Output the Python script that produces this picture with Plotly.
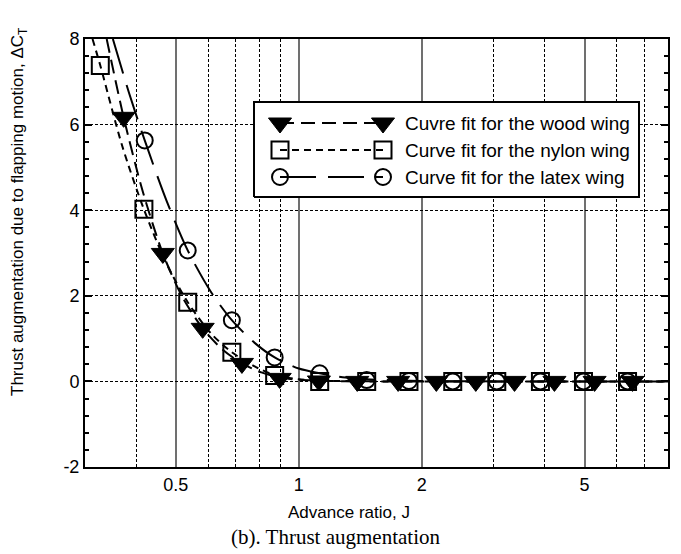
import plotly.graph_objects as go
import numpy as np

# ---- data ----
wood_J = [0.373, 0.465, 0.582, 0.726, 0.898, 1.12, 1.39, 1.75, 2.17, 2.71, 3.37, 4.22, 5.29, 6.55]
wood_dCT = [6.17, 2.99, 1.24, 0.42, 0.07, 0.01, 0.0, 0.0, 0.0, 0.0, 0.0, 0.0, 0.0, 0.0]

nylon_J = [0.327, 0.418, 0.535, 0.686, 0.873, 1.125, 1.466, 1.86, 2.38, 3.05, 3.90, 4.97, 6.37]
nylon_dCT = [7.38, 4.02, 1.85, 0.68, 0.14, 0.0, 0.0, 0.0, 0.0, 0.0, 0.0, 0.0, 0.0]

latex_J = [0.42, 0.535, 0.686, 0.873, 1.125, 1.466, 1.86, 2.38, 3.05, 3.90, 4.97, 6.37]
latex_dCT = [5.63, 3.06, 1.43, 0.56, 0.19, 0.03, 0.01, 0.0, 0.0, 0.0, 0.0, 0.0]

# curve fits
wood_fit_J = [0.339, 0.373, 0.415, 0.465, 0.52, 0.582, 0.65, 0.726, 0.81, 0.898, 1.0, 1.2, 1.6, 8.0]
wood_fit_dCT = [8.0, 6.17, 4.45, 2.99, 1.96, 1.24, 0.75, 0.42, 0.21, 0.09, 0.04, 0.01, 0.0, 0.0]

nylon_fit_J = [0.313, 0.327, 0.37, 0.418, 0.475, 0.535, 0.61, 0.686, 0.78, 0.873, 1.0, 1.125, 1.5, 8.0]
nylon_fit_dCT = [8.0, 7.38, 5.5, 4.02, 2.75, 1.85, 1.12, 0.68, 0.35, 0.15, 0.05, 0.02, 0.0, 0.0]

latex_fit_J = [0.351, 0.385, 0.42, 0.475, 0.535, 0.61, 0.686, 0.78, 0.873, 1.0, 1.125, 1.3, 1.466, 2.0, 3.0, 8.0]
latex_fit_dCT = [8.0, 6.72, 5.63, 4.22, 3.06, 2.09, 1.43, 0.9, 0.56, 0.3, 0.19, 0.09, 0.05, 0.01, 0.0, 0.0]

series_names = ["Cuvre fit for the wood wing", "Curve fit for the nylon wing", "Curve fit for the latex wing"]

x_major = [0.5, 1, 2, 5]
x_major_text = ["0.5", "1", "2", "5"]
x_minor = [0.3, 0.4, 0.6, 0.7, 0.8, 0.9, 3, 4, 6, 7]
y_major = [-2, 0, 2, 4, 6, 8]
y_major_text = ["-2", "0", "2", "4", "6", "8"]

# ---- layout geometry (pixels) ----
W, H = 681, 554
L, R, T, B = 85, 668, 39, 467
pw, ph = R - L, B - T


def px(xp):
    return (xp - L) / pw


def py(yp):
    return (B - yp) / ph


FONT = "Liberation Sans, Arial, sans-serif"
styles = [
    dict(symbol="triangle-down", size=20, color="black", line=dict(width=1, color="black"), dash="14px,7px"),
    dict(symbol="square-open", size=17, color="black", line=dict(width=2, color="black"), dash="7px,5px"),
    dict(symbol="circle-open", size=16, color="black", line=dict(width=2, color="black"), dash="36px,12px"),
]

fig = go.Figure()

fits = [(wood_fit_J, wood_fit_dCT), (nylon_fit_J, nylon_fit_dCT), (latex_fit_J, latex_fit_dCT)]
pts = [(wood_J, wood_dCT), (nylon_J, nylon_dCT), (latex_J, latex_dCT)]

for (fx, fy), st in zip(fits, styles):
    fig.add_trace(go.Scatter(x=fx, y=fy, mode="lines", line=dict(color="black", width=2, dash=st["dash"], shape="spline", smoothing=0.8),
                             showlegend=False, hoverinfo="skip"))
for (mx, my), st in zip(pts, styles):
    fig.add_trace(go.Scatter(x=mx, y=my, mode="markers",
                             marker=dict(symbol=st["symbol"], size=st["size"], color=st["color"], line=st["line"]),
                             showlegend=False))

# ---- custom legend on overlay axes ----
bx0, bx1, by0, by1 = px(254), px(639), py(197), py(102)
fig.add_trace(go.Scatter(x=[bx0, bx1, bx1, bx0, bx0], y=[by0, by0, by1, by1, by0], mode="lines",
                         fill="toself", fillcolor="white", line=dict(color="black", width=2),
                         xaxis="x2", yaxis="y2", showlegend=False, hoverinfo="skip"))
rows = [py(123), py(150), py(177)]
for name, st, ry in zip(series_names, styles, rows):
    fig.add_trace(go.Scatter(x=[px(280), px(383)], y=[ry, ry], mode="lines+markers",
                             line=dict(color="black", width=2, dash=st["dash"]),
                             marker=dict(symbol=st["symbol"], size=st["size"], color=st["color"], line=st["line"]),
                             xaxis="x2", yaxis="y2", showlegend=False, hoverinfo="skip"))
    fig.add_annotation(x=px(403), y=ry, xref="paper", yref="paper", text=name, showarrow=False,
                       xanchor="left", yanchor="middle", font=dict(family=FONT, size=19, color="black"))

fig.update_layout(
    width=W, height=H,
    margin=dict(l=L, r=W - R, t=T, b=H - B),
    paper_bgcolor="white", plot_bgcolor="white",
    showlegend=False,
    font=dict(family=FONT, size=17, color="black"),
    xaxis=dict(type="log", range=[np.log10(0.3), np.log10(8)],
               tickmode="array", tickvals=x_major, ticktext=x_major_text,
               ticks="", showgrid=True, gridcolor="#707070", gridwidth=1.5,
               showline=True, linecolor="black", linewidth=2, mirror=True,
               zeroline=False, tickfont=dict(family=FONT, size=18),
               minor=dict(tickmode="array", tickvals=x_minor, showgrid=True, gridcolor="black",
                          gridwidth=1, griddash="3px,2px", ticks="")),
    yaxis=dict(range=[-2, 8], tickmode="array", tickvals=y_major, ticktext=y_major_text,
               ticks="inside", ticklen=7, tickwidth=1.5, tickcolor="black",
               showgrid=True, gridcolor="black", gridwidth=1, griddash="3px,2px",
               showline=True, linecolor="black", linewidth=2, mirror="allticks",
               zeroline=False, tickfont=dict(family=FONT, size=18),
               minor=dict(dtick=0.4, tick0=0, ticks="inside", ticklen=4, tickwidth=1.5, tickcolor="black", showgrid=False)),
    xaxis2=dict(overlaying="x", range=[0, 1], visible=False, anchor="y2"),
    yaxis2=dict(overlaying="y", range=[0, 1], visible=False, anchor="x2"),
)

fig.add_annotation(x=px(19), y=py(212), xref="paper", yref="paper", textangle=-90, showarrow=False,
                   text="Thrust augmentation due to flapping motion, ΔC<sub>T</sub>",
                   xanchor="center", yanchor="middle", font=dict(family=FONT, size=17, color="black"))
fig.add_annotation(x=px(349), y=py(512), xref="paper", yref="paper", showarrow=False,
                   text="Advance ratio, J", xanchor="center", yanchor="middle",
                   font=dict(family=FONT, size=17, color="black"))
fig.add_annotation(x=px(335), y=py(537), xref="paper", yref="paper", showarrow=False,
                   text="(b). Thrust augmentation", xanchor="center", yanchor="middle",
                   font=dict(family="Liberation Serif, Times New Roman, serif", size=21, color="black"))

fig.write_html("out.html")
